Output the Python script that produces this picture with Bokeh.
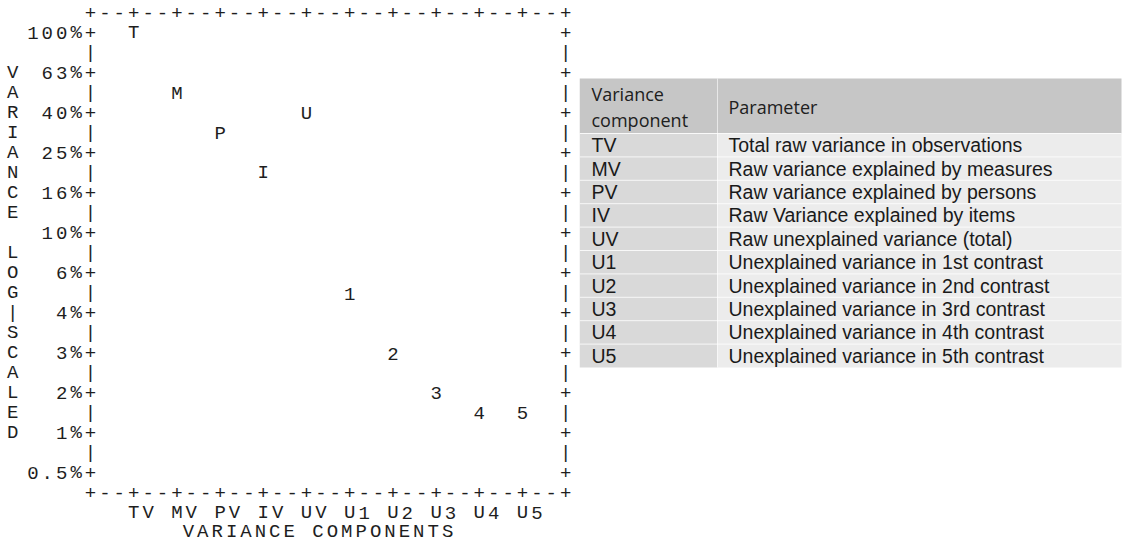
from bokeh.plotting import figure
from bokeh.models import Range1d, ColumnDataSource
from bokeh.layouts import row
from bokeh.core.properties import value
from bokeh.embed import file_html
from bokeh.resources import INLINE

# ---------------- data ----------------
components = ["TV", "MV", "PV", "IV", "UV", "U1", "U2", "U3", "U4", "U5"]
markers = ["T", "M", "P", "I", "U", "1", "2", "3", "4", "5"]
variance_pct = [100.0, 50.1, 31.6, 20.0, 39.8, 5.0, 2.5, 1.6, 1.26, 1.26]
tick_labels = ["100%", "63%", "40%", "25%", "16%", "10%", "6%", "4%", "3%", "2%", "1%", "0.5%"]
y_title = "VARIANCE LOG|SCALED"
x_title = "VARIANCE COMPONENTS"

table_head_1 = ["Variance", "component"]
table_head_2 = "Parameter"
table_params = [
    "Total raw variance in observations",
    "Raw variance explained by measures",
    "Raw variance explained by persons",
    "Raw Variance explained by items",
    "Raw unexplained variance (total)",
    "Unexplained variance in 1st contrast",
    "Unexplained variance in 2nd contrast",
    "Unexplained variance in 3rd contrast",
    "Unexplained variance in 4th contrast",
    "Unexplained variance in 5th contrast",
]

MONO = value("Liberation Mono")
FS = "19px"
INK = "#1e1e1e"

W_LEFT, W_RIGHT, H = 579, 545, 543


def row_val(r):
    # text row r of the character plot -> position on the log % scale
    return 10 ** (2 - (r - 1) / 10)


# ---------------- left: character scree plot ----------------
p = figure(width=W_LEFT, height=H,
           x_range=Range1d(-0.25, 39.958),
           y_range=Range1d(0.28184, 146.2),
           y_axis_type="log", x_axis_location=None, y_axis_location=None,
           output_backend="svg", toolbar_location=None, min_border=0)
p.grid.visible = False
p.outline_line_color = None

fx, fy, ft = [], [], []
LEFT, RIGHT = 6, 39
border = "".join("+" if (c - LEFT) % 3 == 0 else "-" for c in range(LEFT, RIGHT + 1))
for r in (0, 24):
    for k, ch in enumerate(border):
        fx.append(LEFT + k); fy.append(row_val(r)); ft.append(ch)
for r in range(1, 24):
    ch = "+" if r % 2 == 1 else "|"
    for c in (LEFT, RIGHT):
        fx.append(c); fy.append(row_val(r)); ft.append(ch)
# y tick labels (right-aligned against the left frame)
for k, lab in enumerate(tick_labels):
    r = 1 + 2 * k
    for j, ch in enumerate(lab):
        fx.append(LEFT - len(lab) + j); fy.append(row_val(r)); ft.append(ch)
# vertical title
for j, ch in enumerate(y_title):
    if ch != " ":
        fx.append(0.6); fy.append(row_val(3 + j)); ft.append(ch)
# x category labels
for i, comp in enumerate(components):
    for j, ch in enumerate(comp):
        fx.append(9 + 3 * i + j); fy.append(row_val(25)); ft.append(ch)
# x title
for j, ch in enumerate(x_title):
    if ch != " ":
        fx.append(12.8 + j); fy.append(row_val(25.9)); ft.append(ch)

p.text(x="x", y="y", text="t", source=ColumnDataSource(dict(x=fx, y=fy, t=ft)),
       text_font=MONO, text_font_size=FS, text_align="center",
       text_baseline="middle", text_color=INK)

# data points: one plotting letter per variance component
pts = ColumnDataSource(dict(x=[9 + 3 * i for i in range(len(components))],
                            y=variance_pct, t=markers))
p.text(x="x", y="y", text="t", source=pts, text_font=MONO, text_font_size=FS,
       text_align="center", text_baseline="middle", text_color=INK)

# ---------------- right: legend table ----------------
t = figure(width=W_RIGHT, height=H, x_range=Range1d(W_LEFT, W_LEFT + W_RIGHT),
           y_range=Range1d(H, 0),
           x_axis_location=None, y_axis_location=None,
           output_backend="svg", toolbar_location=None, min_border=0)
t.grid.visible = False
t.outline_line_color = None

TL, TS, TR = 579, 717, 1121
HT, HB, RH = 78, 133, 23.4
n = len(components)
t.quad(left=[TL], right=[TR], top=[HT], bottom=[HB], fill_color="#c6c6c6", line_color=None)
t.quad(left=[TL], right=[TS], top=[HB], bottom=[HB + n * RH], fill_color="#d9d9d9", line_color=None)
t.quad(left=[TS], right=[TR], top=[HB], bottom=[HB + n * RH], fill_color="#ececec", line_color=None)
sep_y = [HB + k * RH for k in range(0, n)]
t.segment(x0=[TL] * n, y0=sep_y, x1=[TR] * n, y1=sep_y, line_color="white", line_width=1, line_alpha=0.8)
t.segment(x0=[TS], y0=[HT], x1=[TS], y1=[HB + n * RH], line_color="white", line_width=1, line_alpha=0.6)

t.text(x=[591, 591], y=[93, 119], text=table_head_1, text_font=value("Open Sans"),
       text_font_size="18px", text_baseline="middle", text_color="#202020")
t.text(x=[728], y=[106], text=[table_head_2], text_font=value("Open Sans"),
       text_font_size="18px", text_baseline="middle", text_color="#202020")
row_y = [HB + (k + 0.5) * RH for k in range(n)]
t.text(x=[591] * n, y=row_y, text=components, text_font=value("Liberation Sans"),
       text_font_size="19.5px", text_baseline="middle", text_color="#1a1a1a")
t.text(x=[728] * n, y=row_y, text=table_params, text_font=value("Liberation Sans"),
       text_font_size="19.5px", text_baseline="middle", text_color="#1a1a1a")

layout = row(p, t)
open("out.html", "w").write(file_html(layout, INLINE))
